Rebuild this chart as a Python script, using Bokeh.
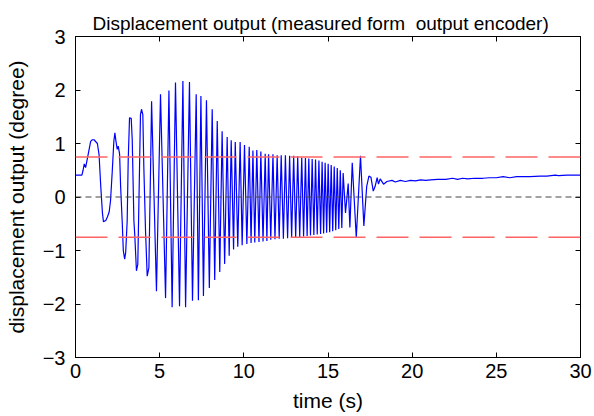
from bokeh.plotting import figure
from bokeh.models import LinearAxis, FixedTicker, CustomJSTickFormatter, Span
from bokeh.embed import file_html
from bokeh.resources import INLINE

# ---- data ----
# start-up and growing oscillation (vertices)
t_start = [0, 0.38, 0.45, 0.52, 0.6, 0.75, 0.9, 1.0, 1.1, 1.3, 1.4, 1.5, 1.6, 1.66, 1.8, 1.9, 2.0,
           2.08, 2.18, 2.28, 2.34, 2.4, 2.48, 2.54, 2.62, 2.68, 2.78, 2.84, 2.92, 2.98, 3.07, 3.13,
           3.21, 3.31, 3.37, 3.47, 3.52, 3.62, 3.7, 3.8, 3.86, 3.92, 4.0, 4.06, 4.16, 4.26, 4.36, 4.46]
y_start = [0.41, 0.41, 0.5, 0.62, 0.55, 0.79, 1.04, 1.07, 1.07, 1.0, 0.79, 0.2, -0.3, -0.46, -0.44,
           -0.37, -0.28, -0.07, 0.46, 1.05, 1.2, 1.05, 0.89, 0.95, 0.8, 0.2, -0.5, -1.0, -1.16, -1.04,
           -0.45, 0.67, 1.48, 1.47, 1.07, -0.45, -0.7, -1.38, -1.26, 0.48, 1.54, 1.64, 1.54, 0.55,
           -0.63, -1.48, -1.32, 0.55]

# peaks and troughs of the main oscillation
t_osc = [4.52, 4.81, 5.05, 5.35, 5.55, 5.74, 5.94, 6.18, 6.38, 6.54, 6.77, 6.95, 7.17, 7.3, 7.45, 7.6,
         7.78, 7.95, 8.12, 8.27, 8.42, 8.57, 8.71, 8.86, 9.01, 9.13, 9.25, 9.39, 9.49, 9.64, 9.78, 9.9,
         10.04, 10.18, 10.32, 10.43, 10.54, 10.65, 10.77, 10.9, 11.01, 11.14, 11.27, 11.37, 11.47,
         11.6, 11.73, 11.85, 11.98, 12.1, 12.22, 12.35, 12.47, 12.6, 12.72, 12.84, 12.96, 13.08,
         13.2, 13.32, 13.44, 13.55, 13.66, 13.76, 13.86, 13.96, 14.06, 14.16, 14.26, 14.36, 14.46,
         14.56, 14.65, 14.74, 14.83, 14.92, 15.01, 15.1, 15.19, 15.28, 15.37, 15.46, 15.55, 15.64,
         15.73, 15.82, 15.9]
y_osc = [1.79, -1.76, 1.92, -1.89, 1.99, -2.06, 2.14, -2.04, 2.17, -2.06, 2.15, -1.94, 1.92, -1.93,
         1.89, -1.85, 1.81, -1.7, 1.64, -1.55, 1.42, -1.4, 1.23, -1.25, 1.12, -1.1, 1.06, -0.98, 1.03,
         -0.93, 1.03, -0.9, 0.97, -0.88, 0.94, -0.86, 0.87, -0.85, 0.88, -0.84, 0.85, -0.83, 0.81,
         -0.82, 0.8, -0.8, 0.8, -0.79, 0.78, -0.78, 0.78, -0.78, 0.78, -0.77, 0.77, -0.76, 0.77,
         -0.76, 0.76, -0.75, 0.74, -0.74, 0.73, -0.73, 0.72, -0.72, 0.71, -0.71, 0.7, -0.7, 0.68,
         -0.69, 0.66, -0.68, 0.64, -0.67, 0.62, -0.66, 0.6, -0.64, 0.57, -0.62, 0.54, -0.6, 0.5,
         -0.58, 0.45]

# final swings and settling
t_settle = [16.04, 16.2, 16.3, 16.44, 16.68, 16.93, 17.13, 17.3, 17.43, 17.55, 17.69, 17.8, 17.92,
            18.0, 18.1, 18.3, 18.5, 18.8, 19.0, 19.3, 19.6, 19.9, 20.2, 20.5, 20.8, 21.1, 21.5,
            22.0, 22.4, 22.7, 23.0, 23.3, 23.7, 24.2, 24.6, 25.0, 25.4, 25.8, 26.2, 27.0, 27.6,
            28.0, 28.5, 28.7, 29.2, 30.0]
y_settle = [-0.3, 0.25, -0.57, 0.64, -0.76, 0.77, -0.54, 0.2, 0.39, 0.37, 0.11, 0.2, 0.36, 0.24,
            0.34, 0.24, 0.29, 0.31, 0.28, 0.31, 0.29, 0.31, 0.3, 0.32, 0.31, 0.32, 0.33, 0.33, 0.35,
            0.33, 0.35, 0.34, 0.35, 0.35, 0.36, 0.36, 0.38, 0.36, 0.38, 0.38, 0.39, 0.39, 0.41, 0.4,
            0.41, 0.41]

bound_level = 0.75
x_ticks = [0, 5, 10, 15, 20, 25, 30]
y_ticks = [-3, -2, -1, 0, 1, 2, 3]

t_all = t_start + t_osc + t_settle
y_all = y_start + y_osc + y_settle

FONT = "Liberation Sans"

p = figure(width=594, height=416, x_range=(0, 30), y_range=(-3, 3),
           output_backend="svg", toolbar_location=None,
           min_border_left=75, min_border_right=14, min_border_top=36, min_border_bottom=59,
           title="Displacement output (measured form\u00a0 output encoder)")
p.background_fill_color = "white"
p.border_fill_color = "white"
p.outline_line_color = "black"
p.outline_line_width = 1
p.xgrid.visible = False
p.ygrid.visible = False

p.title.text_font = FONT
p.title.text_font_size = "19px"
p.title.text_font_style = "normal"
p.title.text_color = "black"
p.title.align = "left"
p.title.standoff = 6
p.title.offset = 17

for ax, ticks in ((p.xaxis[0], x_ticks), (p.yaxis[0], y_ticks)):
    ax.ticker = FixedTicker(ticks=ticks)
    ax.major_tick_in = 5
    ax.major_tick_out = 0
    ax.minor_tick_line_color = None
    ax.axis_line_color = "black"
    ax.major_tick_line_color = "black"
    ax.major_label_text_font = FONT
    ax.major_label_text_font_size = "20px"
    ax.major_label_text_color = "black"
    ax.axis_label_text_font = FONT
    ax.axis_label_text_font_size = "21px"
    ax.axis_label_text_font_style = "normal"
    ax.axis_label_text_color = "black"

p.xaxis.axis_label = "time (s)"
p.yaxis.axis_label = "displacement output (degree)"
p.xaxis.major_label_standoff = 6
p.xaxis.axis_label_standoff = 8
p.yaxis.major_label_standoff = 10
p.yaxis.axis_label_standoff = 12

blank = CustomJSTickFormatter(code="return ''")
top = LinearAxis(ticker=FixedTicker(ticks=x_ticks), formatter=blank, major_tick_in=5,
                 major_tick_out=0, minor_tick_line_color=None, major_label_standoff=0,
                 axis_line_color="black")
right = LinearAxis(ticker=FixedTicker(ticks=y_ticks), formatter=blank, major_tick_in=5,
                   major_tick_out=0, minor_tick_line_color=None, major_label_standoff=0,
                   axis_line_color="black")
p.add_layout(top, "above")
p.add_layout(right, "right")

p.line(t_all, y_all, line_color="#0000ff", line_width=1.2)

for lvl in (bound_level, -bound_level):
    p.add_layout(Span(location=lvl, dimension="width", line_color="#ff6464",
                      line_width=1.5, line_dash="32 11"))
p.add_layout(Span(location=0, dimension="width", line_color="#444444",
                  line_width=1.2, line_dash="6 4"))

open("out.html", "w").write(file_html(p, INLINE))
